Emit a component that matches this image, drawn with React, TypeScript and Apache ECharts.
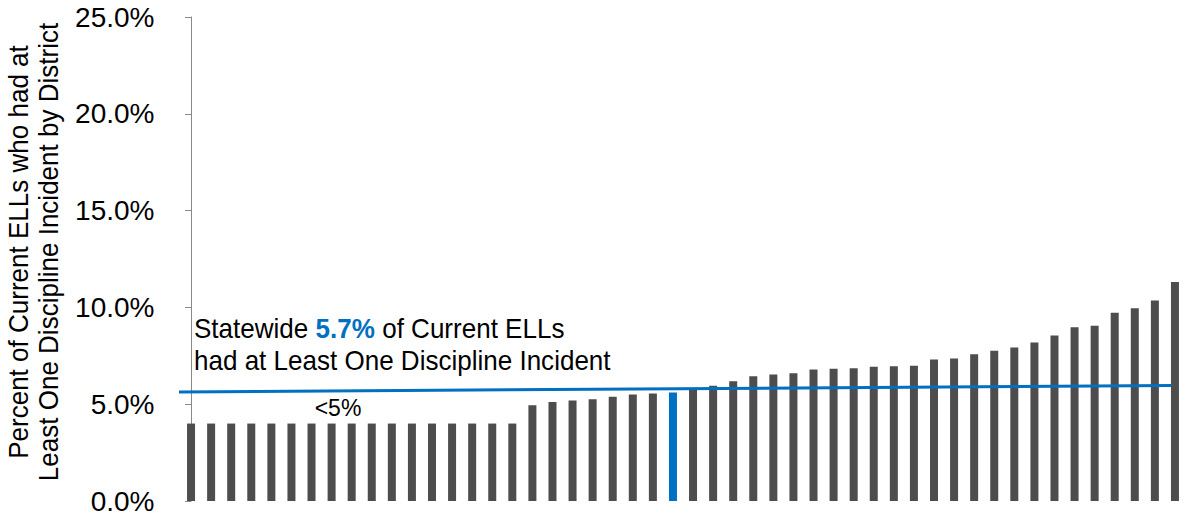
import React, { useEffect, useRef } from "react";
import * as echarts from "echarts";

const districts = [
  "D01", "D02", "D03", "D04", "D05", "D06", "D07", "D08", "D09", "D10",
  "D11", "D12", "D13", "D14", "D15", "D16", "D17", "D18", "D19", "D20",
  "D21", "D22", "D23", "D24", "D25", "D26", "D27", "D28", "D29", "D30",
  "D31", "D32", "D33", "D34", "D35", "D36", "D37", "D38", "D39", "D40",
  "D41", "D42", "D43", "D44", "D45", "D46", "D47", "D48", "D49", "D50",
];

const percentValues = [
  4.0, 4.0, 4.0, 4.0, 4.0, 4.0, 4.0, 4.0, 4.0, 4.0,
  4.0, 4.0, 4.0, 4.0, 4.0, 4.0, 4.0, 4.95, 5.12, 5.19,
  5.26, 5.38, 5.5, 5.55, 5.6, 5.76, 5.95, 6.19, 6.45, 6.53,
  6.6, 6.79, 6.83, 6.86, 6.93, 6.96, 6.98, 7.31, 7.36, 7.58,
  7.76, 7.93, 8.19, 8.55, 8.98, 9.05, 9.72, 9.96, 10.36, 11.31,
];

const highlightIndex = 24;
const statewideRate = 5.7;
// statewide reference line as drawn (start / end, in category-index units)
const statewideLineX = [-0.8, 48.83];
const statewideLineY = [5.63, 5.96];

const yTicks = [0, 5, 10, 15, 20, 25];

const NARROW = "'Liberation Sans Narrow', 'Arial Narrow', 'Liberation Sans', sans-serif";
const SANS = "'Liberation Sans', Arial, sans-serif";
const GREY = "#4D4D4D";
const BLUE = "#0070C0";

export default function App() {
  const ref = useRef<HTMLDivElement>(null);
  useEffect(() => {
    document.body.style.margin = "0";
    if (!ref.current) return;
    const chart = echarts.init(ref.current, undefined, { renderer: "svg" });
    const barData = percentValues.map((v, i) =>
      i === highlightIndex
        ? { value: v, itemStyle: { color: BLUE, borderColor: BLUE, borderWidth: 2 } }
        : v
    );
    chart.setOption({
      animation: false,
      grid: { left: 181, top: 17, width: 1012.5, bottom: 14 },
      xAxis: [
        {
          type: "category",
          data: districts,
          axisLine: { show: false },
          axisTick: { show: false },
          axisLabel: { show: false },
        },
        { type: "value", min: -0.5, max: districts.length - 0.5, show: false },
      ],
      yAxis: {
        type: "value",
        min: yTicks[0],
        max: yTicks[yTicks.length - 1],
        interval: 5,
        offset: 2.5,
        axisLine: { show: true, lineStyle: { color: "#898989", width: 1 } },
        axisTick: { show: true, length: 6, lineStyle: { color: "#898989" } },
        splitLine: { show: false },
        axisLabel: {
          formatter: (v: number) => v.toFixed(1) + "%",
          fontSize: 28,
          color: "#000",
          fontFamily: SANS,
          margin: 24,
        },
      },
      series: [
        {
          type: "bar",
          data: barData,
          barWidth: 8,
          itemStyle: { color: GREY },
          z: 2,
        },
        {
          type: "line",
          xAxisIndex: 1,
          data: statewideLineX.map((x, i) => [x, statewideLineY[i]]),
          symbol: "none",
          lineStyle: { color: BLUE, width: 3 },
          z: 3,
        },
      ],
      graphic: [
        {
          type: "text",
          x: 34,
          y: 252,
          rotation: Math.PI / 2,
          scaleX: 0.93,
          style: {
            text: "Percent of Current ELLs who had at\nLeast One Discipline Incident by District",
            fontSize: 28,
            fontFamily: NARROW,
            fill: "#000",
            align: "center",
            verticalAlign: "middle",
            textAlign: "center",
            textVerticalAlign: "middle",
            lineHeight: 30,
          },
        },
        {
          type: "text",
          x: 194,
          y: 313,
          scaleX: 0.93,
          style: {
            text:
              "Statewide {v|" + statewideRate.toFixed(1) + "%} of Current ELLs\nhad at Least One Discipline Incident",
            fontSize: 28,
            fontFamily: NARROW,
            fill: "#000",
            lineHeight: 32,
            align: "left",
            verticalAlign: "top",
            textAlign: "left",
            textVerticalAlign: "top",
            rich: {
              v: {
                fill: BLUE,
                fontWeight: "bold",
                fontSize: 28,
                fontFamily: NARROW,
                lineHeight: 32,
              },
            },
          },
        },
        {
          type: "text",
          x: 338,
          y: 408,
          style: {
            text: "<5%",
            fontSize: 23,
            fontFamily: SANS,
            fill: "#000",
            align: "center",
            verticalAlign: "middle",
            textAlign: "center",
            textVerticalAlign: "middle",
          },
        },
      ],
    });
    return () => chart.dispose();
  }, []);
  return <div ref={ref} style={{ width: 1185, height: 515 }} />;
}
